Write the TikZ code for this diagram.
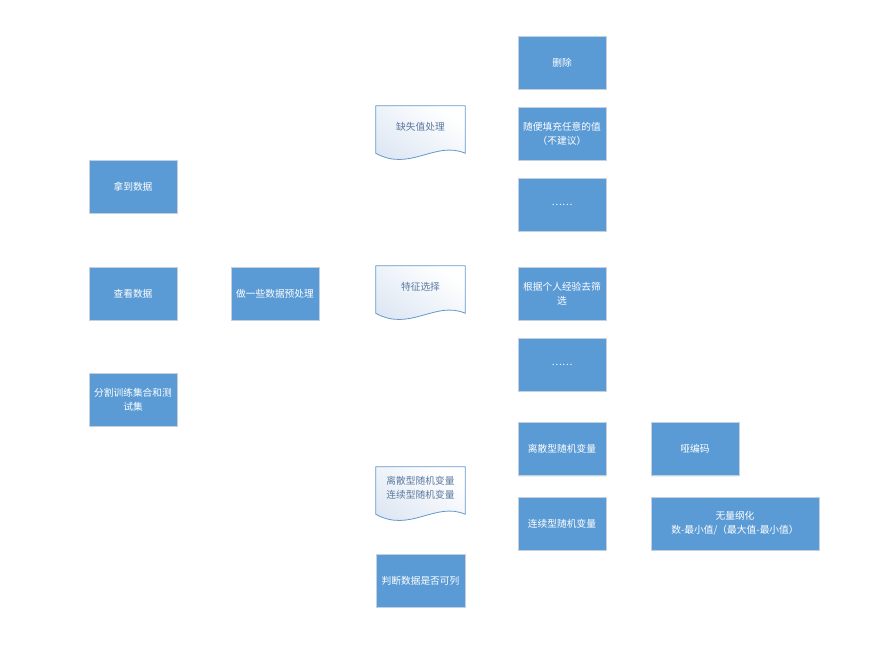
\documentclass[tikz,border=0pt]{standalone}
\usepackage{fontspec}
\newfontfamily\cjk{Noto Sans CJK SC}
\usetikzlibrary{positioning,calc,backgrounds,shadows}
\definecolor{BoxBlue}{RGB}{91,155,213}
\definecolor{BoxEdge}{RGB}{196,208,222}
\definecolor{DocEdge}{RGB}{100,152,204}
\definecolor{DocText}{RGB}{92,122,160}
\definecolor{DocFill}{RGB}{220,230,243}
\tikzset{
  flow box/.style={
    draw=BoxEdge,
    line width=0.6pt,
    fill=BoxBlue,
    text=white,
    align=center,
    font=\cjk\fontsize{7.3pt}{10.5pt}\selectfont,
    inner sep=1pt,
    minimum width=66pt,
    minimum height=39.75pt,
    drop shadow={opacity=0.12, shadow xshift=0.3pt, shadow yshift=-0.9pt}
  },
  flow doc/.style={
    text=DocText,
    align=center,
    font=\cjk\fontsize{7.3pt}{10.5pt}\selectfont,
    inner sep=0pt,
    minimum width=66.75pt,
    minimum height=31.5pt
  },
  doc outline/.style={draw=DocEdge, line width=0.6pt, top color=white, bottom color=DocFill, shading angle=-35}
}
% document shape behind a named text node
\newcommand\docwave[1]{%
  \begin{scope}[on background layer]
    \draw[doc outline] (#1.north west) -- (#1.north east)
      -- ($(#1.south east)+(0,5)$)
      .. controls ($(#1.south east)+(-30,-8)$) and ($(#1.south west)+(34,24)$) .. ($(#1.south west)+(0,5)$)
      -- cycle;
  \end{scope}}

\begin{document}
\begin{tikzpicture}[x=0.75pt,y=-0.75pt]
\useasboundingbox (0,0) rectangle (892,660);
% first steps
\node[flow box] (get) at (133,186.5) {拿到数据};
\node[flow box] (view) at (133,293.5) {查看数据};
\node[flow box] (split) at (133,399.5) {分割训练集合和测\\试集};
\node[flow box] (prep) at (275,293.5) {做一些数据预处理};
% preprocessing topics
\node[flow doc] (miss) at (420.5,127) {缺失值处理};
\node[flow doc] (feat) at (420.5,287) {特征选择};
\node[flow doc] (kind) at (420.5,488) {离散型随机变量\\连续型随机变量};
\docwave{miss}
\docwave{feat}
\docwave{kind}
\node[flow box, minimum width=66.75pt] (judge) at (420.5,580.5) {判断数据是否可列};
% options
\node[flow box] (del) at (562,62.5) {删除};
\node[flow box] (fill) at (562,133.5) {随便填充任意的值\\（不建议）};
\node[flow box] (more1) at (562,204.5) {……};
\node[flow box] (pick) at (562,293.5) {根据个人经验去筛\\选};
\node[flow box] (more2) at (562,364.5) {……};
\node[flow box] (disc) at (562,449) {离散型随机变量};
\node[flow box] (cont) at (562,523.5) {连续型随机变量};
\node[flow box] (dummy) at (695,449) {哑编码};
\node[flow box, minimum width=126pt] (scale) at (735,523.5) {无量纲化\\数-最小值/（最大值-最小值）};
\end{tikzpicture}
\end{document}
